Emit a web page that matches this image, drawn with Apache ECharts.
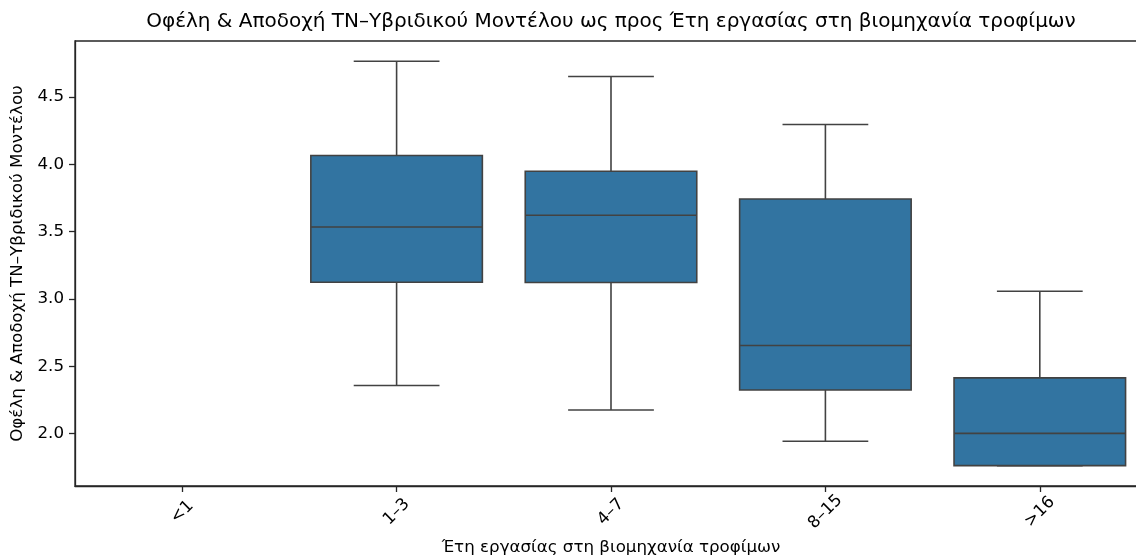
<!DOCTYPE html>
<html>
<head>
<meta charset="utf-8">
<script src="https://cdn.jsdelivr.net/npm/echarts@6/dist/echarts.min.js"></script>
<style>
  html, body { margin: 0; padding: 0; background: #fff; overflow: hidden; width: 1136px; height: 555px; }
  /* the plot area runs past the right edge of the window, as in the original */
  #wrap { width: 1136px; height: 555px; overflow: hidden; position: relative; }
  #chart { width: 1147px; height: 555px; position: absolute; left: 0; top: 0; }
</style>
</head>
<body>
<div id="wrap"><div id="chart"></div></div>
<script>
// categories and box statistics; "<1" has no data
const categories = ['<1', '1–3', '4–7', '8–15', '>16'];
const lows    = [null, 2.357, 2.175, 1.943, 1.762];
const q1s     = [null, 3.124, 3.122, 2.324, 1.762];
const medians = [null, 3.535, 3.622, 2.654, 2.002];
const q3s     = [null, 4.066, 3.949, 3.743, 2.414];
const highs   = [null, 4.766, 4.652, 4.296, 3.057];
const yTicks  = [2.0, 2.5, 3.0, 3.5, 4.0, 4.5];

const titleText = 'Οφέλη & Αποδοχή ΤΝ–Υβριδικού Μοντέλου ως προς Έτη εργασίας στη βιομηχανία τροφίμων';
const font = 'DejaVu Sans';
const boxFill = '#3274a1';
const edge = '#424242';
const axisColor = '#262626';

// rows for the custom series
let boxData = [];
categories.forEach((c, i) => {
  if (medians[i] == null) return;
  boxData.push([i, lows[i], q1s[i], medians[i], q3s[i], highs[i]]);
});

// centre the title above the plot area
const gridLeft = 75, gridWidth = 1072;
const ctx = document.createElement('canvas').getContext('2d');
ctx.font = '20px "' + font + '"';
const titleW = ctx.measureText(titleText).width;

let myChart = echarts.init(document.getElementById('chart'));
myChart.setOption({
  animation: false,
  backgroundColor: '#fff',
  textStyle: { fontFamily: font },
  title: {
    text: titleText,
    left: gridLeft + gridWidth / 2 - titleW / 2,
    top: 12,
    padding: 0,
    textStyle: { fontSize: 20, fontWeight: 'normal', color: '#000', fontFamily: font }
  },
  grid: {
    left: gridLeft,
    top: 41,
    width: gridWidth,
    height: 445,
    outerBoundsMode: 'none',
    show: true,
    borderColor: axisColor,
    borderWidth: 1.3
  },
  xAxis: {
    type: 'category',
    data: categories,
    boundaryGap: true,
    name: 'Έτη εργασίας στη βιομηχανία τροφίμων',
    nameLocation: 'middle',
    nameGap: 51,
    nameTextStyle: { fontSize: 16.7, color: '#000' },
    axisLine: { show: true, lineStyle: { color: axisColor, width: 1.3 } },
    axisTick: { show: true, alignWithLabel: true, length: 6, lineStyle: { color: axisColor, width: 1.3 } },
    axisLabel: {
      rotate: 45,
      margin: 26,
      align: 'center',
      verticalAlign: 'middle',
      fontSize: 16.7,
      color: '#000'
    },
    splitLine: { show: false }
  },
  yAxis: {
    type: 'value',
    min: 1.611,
    max: 4.916,
    name: 'Οφέλη & Αποδοχή ΤΝ–Υβριδικού Μοντέλου',
    nameLocation: 'middle',
    nameGap: 48,
    nameTextStyle: { fontSize: 16.7, color: '#000' },
    axisLine: { show: true, lineStyle: { color: axisColor, width: 1.3 } },
    axisTick: { show: true, length: 6, customValues: yTicks, lineStyle: { color: axisColor, width: 1.3 } },
    axisLabel: {
      margin: 11,
      fontSize: 16.7,
      color: '#000',
      customValues: yTicks,
      formatter: v => v.toFixed(1)
    },
    splitLine: { show: false }
  },
  series: [{
    type: 'custom',
    data: boxData,
    encode: { x: 0, y: [1, 2, 3, 4, 5] },
    renderItem: function (params, api) {
      const i = api.value(0);
      const bw = api.size([1, 0])[0] * 0.8;
      const cap = bw / 2;
      const pLo = api.coord([i, api.value(1)]);
      const pQ1 = api.coord([i, api.value(2)]);
      const pMed = api.coord([i, api.value(3)]);
      const pQ3 = api.coord([i, api.value(4)]);
      const pHi = api.coord([i, api.value(5)]);
      const x = pMed[0];
      const ls = { stroke: edge, lineWidth: 1.6 };
      return {
        type: 'group',
        children: [
          { type: 'line', shape: { x1: x, y1: pQ1[1], x2: x, y2: pLo[1] }, style: ls },
          { type: 'line', shape: { x1: x, y1: pQ3[1], x2: x, y2: pHi[1] }, style: ls },
          { type: 'line', shape: { x1: x - cap / 2, y1: pLo[1], x2: x + cap / 2, y2: pLo[1] }, style: ls },
          { type: 'line', shape: { x1: x - cap / 2, y1: pHi[1], x2: x + cap / 2, y2: pHi[1] }, style: ls },
          {
            type: 'rect',
            shape: { x: x - bw / 2, y: pQ3[1], width: bw, height: pQ1[1] - pQ3[1] },
            style: { fill: boxFill, stroke: edge, lineWidth: 1.6 }
          },
          { type: 'line', shape: { x1: x - bw / 2, y1: pMed[1], x2: x + bw / 2, y2: pMed[1] }, style: ls }
        ]
      };
    }
  }]
});
</script>
</body>
</html>
